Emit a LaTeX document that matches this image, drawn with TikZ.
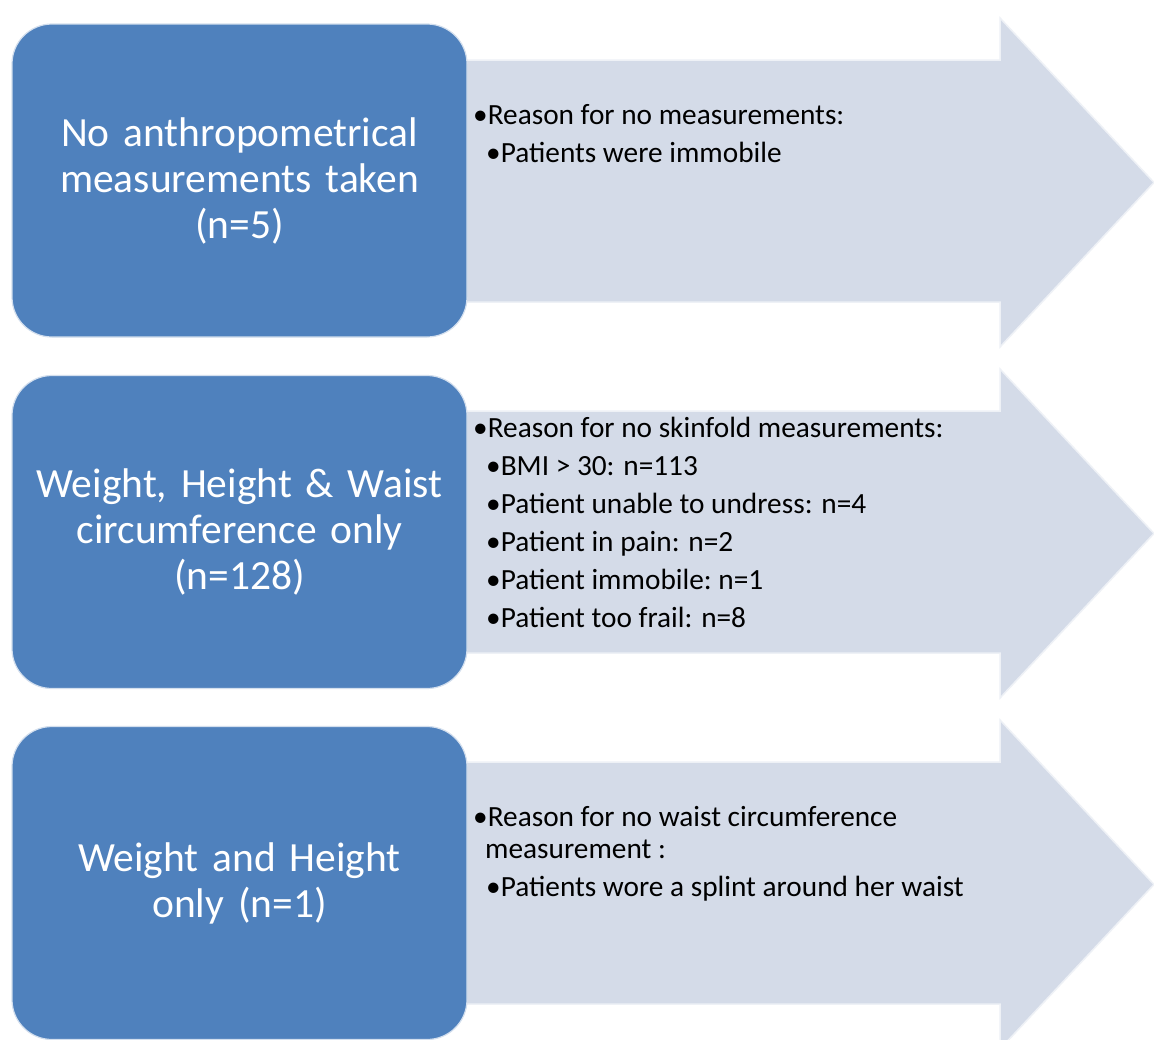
\documentclass[tikz,border=0pt]{standalone}
\usepackage{fontspec}
\setmainfont{Carlito}
\definecolor{stageblue}{RGB}{79,129,189}
\definecolor{reasonfill}{RGB}{212,219,232}
\tikzset{
  stagebox/.style={rounded corners=40, fill=stageblue, draw=white!75!stageblue, line width=1.2,
    minimum width=455, minimum height=313, text width=445, align=center, inner sep=0,
    text=white, font=\fontsize{41.5}{46}\selectfont},
  reasonarrow/.style={fill=reasonfill, draw=white!60!reasonfill, line width=1.5},
  reasontext/.style={anchor=base west, inner sep=0, font=\fontsize{29.3}{38}\selectfont},
}
\begin{document}
\begin{tikzpicture}[x=1pt,y=1pt,yscale=-1,xscale=1]
    \useasboundingbox[fill=white] (0,0) rectangle (1154,1039);
    %Shape: Right Arrow (row 1)
    \draw[reasonarrow] (440,60) -- (1000,60) -- (1000,18) -- (1154,182.5) -- (1000,347) -- (1000,302) -- (440,302) -- cycle;
    %Shape: Right Arrow (row 2)
    \draw[reasonarrow] (440,411) -- (1000,411) -- (1000,369) -- (1154,533.5) -- (1000,698) -- (1000,653) -- (440,653) -- cycle;
    %Shape: Right Arrow (row 3)
    \draw[reasonarrow] (440,762) -- (1000,762) -- (1000,720) -- (1154,884.5) -- (1000,1049) -- (1000,1004) -- (440,1004) -- cycle;
    %Rounded boxes
    \node[stagebox] (noMeas) at (239.5,180.5) {No anthropometrical\\measurements taken\\(n=5)};
    \node[stagebox] (wtHtWaist) at (239.5,532) {Weight, Height \& Waist\\circumference only\\(n=128)};
    \node[stagebox] (wtHt) at (239.5,883) {Weight and Height\\only (n=1)};
    % Text Node
    \node[reasontext] (noMeasWhy) at (473,124) {\parbox[t]{640pt}{\textbullet Reason for no measurements:\\
      \hspace*{13pt}\textbullet Patients were immobile}};
    % Text Node
    \node[reasontext] (wtHtWaistWhy) at (473,437) {\parbox[t]{640pt}{\textbullet Reason for no skinfold measurements:\\
      \hspace*{13pt}\textbullet BMI > 30: n=113\\
      \hspace*{13pt}\textbullet Patient unable to undress: n=4\\
      \hspace*{13pt}\textbullet Patient in pain: n=2\\
      \hspace*{13pt}\textbullet Patient immobile:\ n=1\\
      \hspace*{13pt}\textbullet Patient too frail: n=8}};
    % Text Node
    \node[reasontext] (wtHtWhy) at (473,826) {\parbox[t]{640pt}{\textbullet Reason for no waist circumference\\[-6pt]
      \hspace*{12pt}measurement :\\
      \hspace*{13pt}\textbullet Patients wore a splint around her waist}};
\end{tikzpicture}
\end{document}
